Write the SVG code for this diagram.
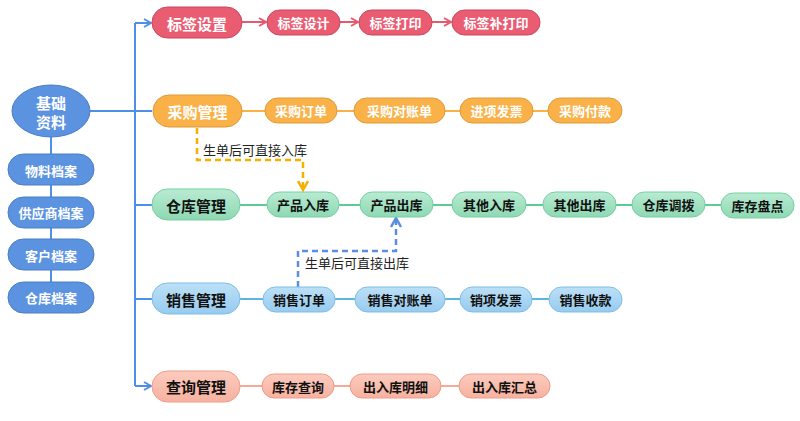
<svg xmlns="http://www.w3.org/2000/svg" width="800" height="421" viewBox="0 0 800 421">
<defs>
<linearGradient id="gGreen" x1="0" y1="0" x2="0" y2="1"><stop offset="0" stop-color="#B9EBD3"/><stop offset="1" stop-color="#8ED8B2"/></linearGradient>
<linearGradient id="gBlue" x1="0" y1="0" x2="0" y2="1"><stop offset="0" stop-color="#BCE0F7"/><stop offset="1" stop-color="#97CBEF"/></linearGradient>
<linearGradient id="gSalmon" x1="0" y1="0" x2="0" y2="1"><stop offset="0" stop-color="#FBCBBE"/><stop offset="1" stop-color="#F7B19F"/></linearGradient>
<marker id="aBlue" markerWidth="10" markerHeight="10" refX="8" refY="5" orient="auto" markerUnits="userSpaceOnUse"><path d="M1,1 L8,5 L1,9" fill="none" stroke="#4F8FE6" stroke-width="2"/></marker>
<marker id="aRed" markerWidth="10" markerHeight="10" refX="8" refY="5" orient="auto" markerUnits="userSpaceOnUse"><path d="M1,1 L8,5 L1,9" fill="none" stroke="#E55A70" stroke-width="2"/></marker>
<marker id="aGold" markerWidth="12" markerHeight="12" refX="10" refY="6" orient="auto" markerUnits="userSpaceOnUse"><path d="M1,1 L10,6 L1,11" fill="none" stroke="#F5B000" stroke-width="2.5"/></marker>
<marker id="aDBlue" markerWidth="12" markerHeight="12" refX="10" refY="6" orient="auto" markerUnits="userSpaceOnUse"><path d="M1,1 L10,6 L1,11" fill="none" stroke="#5B8EE0" stroke-width="2.5"/></marker>
</defs>
<style>
text{font-family:"Noto Sans CJK SC","Microsoft YaHei",sans-serif;font-weight:bold;text-anchor:middle;dominant-baseline:central}
.m{font-size:15px}
.s{font-size:13px}
.w{fill:#fff}
.k{fill:#111}
.red{fill:#E95C72;stroke:#C9475C;stroke-width:1}
.org{fill:#F9B148;stroke:#DE9A3A;stroke-width:1}
.grn{fill:url(#gGreen);stroke:#74CFA1;stroke-width:1}
.lbl{fill:url(#gBlue);stroke:#7DBDE8;stroke-width:1}
.sal{fill:url(#gSalmon);stroke:#F09C88;stroke-width:1}
.blu{fill:#5B93E1;stroke:#4A7CC6;stroke-width:1}
.c{fill:none;stroke-width:2}
.note{font-size:13px;font-weight:normal;fill:#222;text-anchor:start}
</style>
<g id="connectors">
<path class="c" stroke="#4F8FE6" d="M135,23 V386"/>
<path class="c" stroke="#4F8FE6" d="M135,23 H151" marker-end="url(#aBlue)"/>
<path class="c" stroke="#4F8FE6" d="M135,386 H151" marker-end="url(#aBlue)"/>
<path class="c" stroke="#4F8FE6" d="M90,111 H152 M135,205 H152 M135,299 H152"/>
<path class="c" stroke="#4F8FE6" d="M51,137 V297"/>
<path class="c" stroke="#E55A70" d="M242,22 H266" marker-end="url(#aRed)"/>
<path class="c" stroke="#E55A70" d="M340,22 H358" marker-end="url(#aRed)"/>
<path class="c" stroke="#E55A70" d="M432,22 H451" marker-end="url(#aRed)"/>
<path class="c" stroke="#F9B148" d="M241,111 H622"/>
<path class="c" stroke="#5CCB92" d="M240,205 H794"/>
<path class="c" stroke="#5BB5E4" d="M240,299 H622"/>
<path class="c" stroke="#F5A996" d="M240,386 H550"/>
<path fill="none" stroke="#F5B000" stroke-width="2.5" stroke-dasharray="6,4" d="M197,128 V160 H303 V190" marker-end="url(#aGold)"/>
<path fill="none" stroke="#5B8EE0" stroke-width="2.5" stroke-dasharray="6,4" d="M298,287 V251 H396 V218" marker-end="url(#aDBlue)"/>
<text class="note" x="203" y="149">生单后可直接入库</text>
<text class="note" x="305" y="262">生单后可直接出库</text>
</g>
<g id="n-jichu"><ellipse class="blu" cx="51" cy="111" rx="39" ry="26"/><text class="m w" x="51" y="102">基础</text><text class="m w" x="51" y="121">资料</text></g>
<g id="n-wuliao"><rect class="blu" x="8" y="154" width="86" height="31" rx="15.5"/><text class="s w" x="51" y="170">物料档案</text></g>
<g id="n-gongying"><rect class="blu" x="8" y="197" width="86" height="31" rx="15.5"/><text class="s w" x="51" y="212">供应商档案</text></g>
<g id="n-kehu"><rect class="blu" x="8" y="239" width="86" height="31" rx="15.5"/><text class="s w" x="51" y="255">客户档案</text></g>
<g id="n-cangku-da"><rect class="blu" x="8" y="282" width="86" height="31" rx="15.5"/><text class="s w" x="51" y="297">仓库档案</text></g>

<g id="n-biaoqian"><rect class="red" x="152" y="7" width="90" height="31" rx="15.5"/><text class="m w" x="197" y="23">标签设置</text></g>
<g id="n-bqsj"><rect class="red" x="267" y="10" width="73" height="25" rx="12.5"/><text class="s w" x="303.5" y="22.5">标签设计</text></g>
<g id="n-bqdy"><rect class="red" x="359" y="10" width="73" height="25" rx="12.5"/><text class="s w" x="395.5" y="22.5">标签打印</text></g>
<g id="n-bqbdy"><rect class="red" x="452" y="10" width="88" height="25" rx="12.5"/><text class="s w" x="496" y="22.5">标签补打印</text></g>

<g id="n-caigou"><rect class="org" x="153" y="95" width="89" height="32" rx="16"/><text class="m w" x="197.5" y="111">采购管理</text></g>
<g id="n-cgdd"><rect class="org" x="265" y="98" width="72" height="25" rx="12.5"/><text class="s w" x="301" y="110.5">采购订单</text></g>
<g id="n-cgdzd"><rect class="org" x="354" y="98" width="91" height="25" rx="12.5"/><text class="s w" x="399.5" y="110.5">采购对账单</text></g>
<g id="n-jxfp"><rect class="org" x="460" y="98" width="73" height="25" rx="12.5"/><text class="s w" x="496.5" y="110.5">进项发票</text></g>
<g id="n-cgfk"><rect class="org" x="548" y="98" width="74" height="25" rx="12.5"/><text class="s w" x="585" y="110.5">采购付款</text></g>

<g id="n-cangku"><rect class="grn" x="152" y="189" width="88" height="31" rx="15.5"/><text class="m k" x="196" y="205">仓库管理</text></g>
<g id="n-cprk"><rect class="grn" x="267" y="192" width="72" height="25" rx="12.5"/><text class="s k" x="303" y="204.5">产品入库</text></g>
<g id="n-cpck"><rect class="grn" x="360" y="192" width="73" height="25" rx="12.5"/><text class="s k" x="396.5" y="204.5">产品出库</text></g>
<g id="n-qtrk"><rect class="grn" x="452" y="192" width="74" height="25" rx="12.5"/><text class="s k" x="489" y="204.5">其他入库</text></g>
<g id="n-qtck"><rect class="grn" x="543" y="192" width="73" height="25" rx="12.5"/><text class="s k" x="579.5" y="204.5">其他出库</text></g>
<g id="n-ckdb"><rect class="grn" x="632" y="192" width="73" height="25" rx="12.5"/><text class="s k" x="668.5" y="204.5">仓库调拨</text></g>
<g id="n-kcpd"><rect class="grn" x="721" y="193" width="73" height="25" rx="12.5"/><text class="s k" x="757.5" y="205.5">库存盘点</text></g>

<g id="n-xiaoshou"><rect class="lbl" x="152" y="283" width="88" height="31" rx="15.5"/><text class="m k" x="196" y="299">销售管理</text></g>
<g id="n-xsdd"><rect class="lbl" x="263" y="287" width="72" height="25" rx="12.5"/><text class="s k" x="299" y="299.5">销售订单</text></g>
<g id="n-xsdzd"><rect class="lbl" x="355" y="287" width="90" height="25" rx="12.5"/><text class="s k" x="400" y="299.5">销售对账单</text></g>
<g id="n-xxfp"><rect class="lbl" x="460" y="287" width="72" height="25" rx="12.5"/><text class="s k" x="496" y="299.5">销项发票</text></g>
<g id="n-xssk"><rect class="lbl" x="549" y="287" width="73" height="25" rx="12.5"/><text class="s k" x="585.5" y="299.5">销售收款</text></g>

<g id="n-chaxun"><rect class="sal" x="152" y="371" width="88" height="31" rx="15.5"/><text class="m k" x="196" y="386">查询管理</text></g>
<g id="n-kccx"><rect class="sal" x="262" y="374" width="72" height="24" rx="12"/><text class="s k" x="298" y="386">库存查询</text></g>
<g id="n-crkmx"><rect class="sal" x="350" y="374" width="91" height="24" rx="12"/><text class="s k" x="395.5" y="386">出入库明细</text></g>
<g id="n-crkhz"><rect class="sal" x="459" y="374" width="91" height="24" rx="12"/><text class="s k" x="504.5" y="386">出入库汇总</text></g>
</svg>
